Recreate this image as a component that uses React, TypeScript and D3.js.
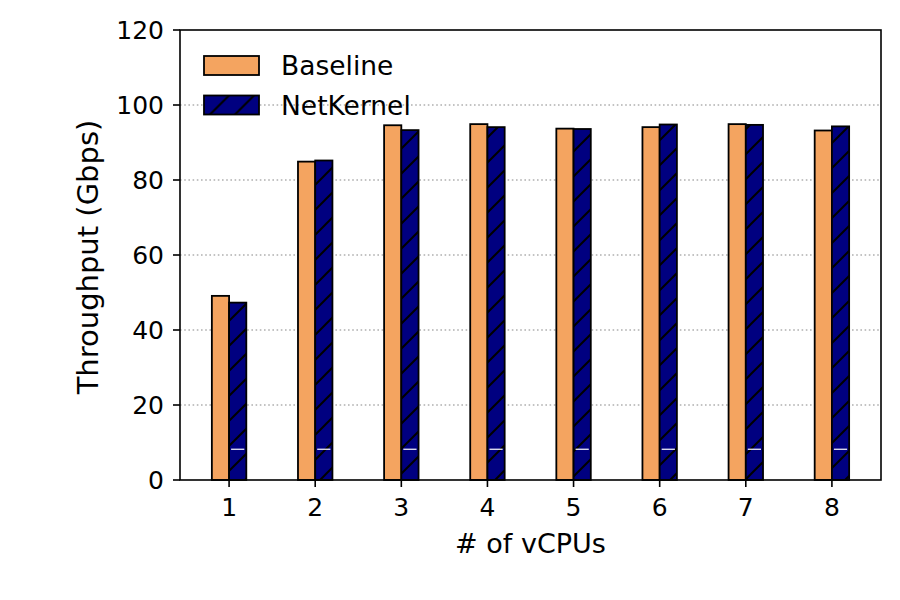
import * as d3 from "d3";

const vcpus = [1, 2, 3, 4, 5, 6, 7, 8];
const baseline = [49.1, 84.9, 94.6, 94.9, 93.7, 94.1, 94.9, 93.2];
const netkernel = [47.3, 85.2, 93.3, 94.1, 93.6, 94.8, 94.7, 94.3];
const markLevel = 8.2;
const yTicks = [0, 20, 40, 60, 80, 100, 120];
const series = ["Baseline", "NetKernel"];

const W = 900;
const H = 600;
const left = 180;
const right = 881;
const top = 30;
const bottom = 480;
const font = "'DejaVu Sans', sans-serif";

export default function App() {
  const x = d3.scaleLinear().domain([0.43, 8.57]).range([left, right]);
  const y = d3.scaleLinear().domain([0, 120]).range([bottom, top]);
  const bw = x(1.2) - x(1);

  return (
    <svg
      width={W}
      height={H}
      style={{ position: "absolute", left: 0, top: 0, background: "#fff" }}
      fontFamily={font}
    >
      <defs>
        <pattern id="hatch" patternUnits="userSpaceOnUse" width={25} height={25}>
          <rect width={25} height={25} fill="#000080" />
          <path d="M0,25 L25,0 M-5,5 L5,-5 M20,30 L30,20" stroke="#000" strokeWidth={2} />
        </pattern>
      </defs>

      {/* grid */}
      {yTicks.filter(t => t > 0 && t < 120).map(t => (
        <line key={t} x1={left} x2={right} y1={y(t)} y2={y(t)}
          stroke="#b0b0b0" strokeWidth={1.6} strokeDasharray="1.6,2.6" />
      ))}

      {/* bars */}
      {vcpus.map((v, i) => (
        <g key={v}>
          <rect x={x(v) - bw} y={y(baseline[i])} width={bw} height={y(0) - y(baseline[i])}
            fill="#f4a460" stroke="#000" strokeWidth={1.8} />
          <rect x={x(v)} y={y(netkernel[i])} width={bw} height={y(0) - y(netkernel[i])}
            fill="url(#hatch)" stroke="#000" strokeWidth={1.8} />
          <line x1={x(v) + 2} x2={x(v) + bw - 2} y1={y(markLevel)} y2={y(markLevel)}
            stroke="#fff" strokeWidth={1.2} />
        </g>
      ))}

      {/* axes frame */}
      <rect x={left} y={top} width={right - left} height={bottom - top}
        fill="none" stroke="#000" strokeWidth={1.6} />

      {/* y ticks */}
      {yTicks.map(t => (
        <g key={t}>
          <line x1={left - 7} x2={left} y1={y(t)} y2={y(t)} stroke="#000" strokeWidth={1.6} />
          <text x={left - 16} y={y(t) + 9} textAnchor="end" fontSize={25} fill="#000">{t}</text>
        </g>
      ))}

      {/* x ticks */}
      {vcpus.map(v => (
        <g key={v}>
          <line x1={x(v)} x2={x(v)} y1={bottom} y2={bottom + 7} stroke="#000" strokeWidth={1.6} />
          <text x={x(v)} y={516} textAnchor="middle" fontSize={25} fill="#000">{v}</text>
        </g>
      ))}

      <text x={(left + right) / 2} y={553} textAnchor="middle" fontSize={27} fill="#000"># of vCPUs</text>
      <text transform={`translate(98,${(top + bottom) / 2 + 2}) rotate(-90)`} textAnchor="middle"
        fontSize={29} fill="#000">Throughput (Gbps)</text>

      {/* legend */}
      {series.map((s, i) => (
        <g key={s} transform={`translate(204,${56 + i * 39.5})`}>
          <rect width={55} height={19} fill={i === 0 ? "#f4a460" : "url(#hatch)"}
            stroke="#000" strokeWidth={1.8} />
          <text x={77} y={19} fontSize={26.5} fill="#000">{s}</text>
        </g>
      ))}
    </svg>
  );
}
